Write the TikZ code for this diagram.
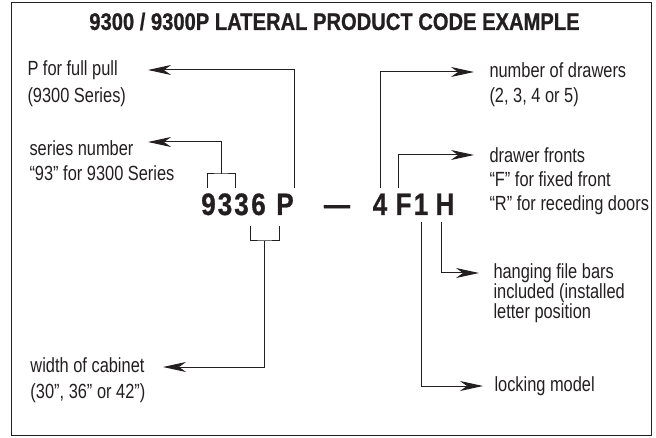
\documentclass[tikz,border=0pt]{standalone}
\usepackage{fontspec}
\usepackage{xcolor}
\usepackage{tikz}
\usetikzlibrary{arrows.meta,positioning,calc}
\newfontfamily\lblfont[FakeStretch=0.8]{Liberation Sans}
\newfontfamily\hdfont[FakeStretch=0.84,FakeBold=0.8]{Liberation Sans Bold}
\definecolor{ink}{RGB}{35,31,32}

\begin{document}
\begin{tikzpicture}[x=1pt,y=-1pt,color=ink,line width=1pt,
  >={Stealth[length=23pt,width=10pt,inset=7pt]},
  lbl/.style={font=\lblfont\fontsize{20.5}{25}\selectfont,anchor=west,align=left,inner sep=0pt},
  code/.style={font=\hdfont\fontsize{31}{31}\selectfont,inner sep=0pt,anchor=base}]
  \useasboundingbox (0,0) rectangle (656,438);
  \draw (11,3) rectangle (651,435);
  \node[font=\hdfont\fontsize{24}{24}\selectfont] (title) at (334.5,21.5) {9300 / 9300P LATERAL PRODUCT CODE EXAMPLE};

  % product code
  \node[code] (c9) at (208.5,215) {9};
  \node[code] (c3a) at (225,215) {3};
  \node[code] (c3b) at (241.5,215) {3};
  \node[code] (c6) at (258.5,215) {6};
  \node[code] (cP) at (285,215) {P};
  \node[code] (dash) at (337,215) {—};
  \node[code] (c4) at (380,215) {4};
  \node[code] (cF) at (403.5,215) {F};
  \node[code] (c1) at (421,215) {1};
  \node[code] (cH) at (445,215) {H};

  % explanations
  \node[lbl] (pull) at (27,83.5) {P for full pull\\[2pt](9300 Series)};
  \node[lbl] (series) at (29,160.5) {series number\\“93” for 9300 Series};
  \node[lbl] (width) at (30,380) {width of cabinet\\[1pt](30”, 36” or 42”)};
  \node[lbl] (drawers) at (489,84.5) {number of drawers\\(2, 3, 4 or 5)};
  \node[lbl] (fronts) at (489,181) {drawer fronts\\[-1pt]“F” for fixed front\\[-1pt]“R” for receding doors};
  \node[lbl] (hanging) at (493,293) {hanging file bars\\[-5pt]included (installed\\[-5pt]letter position};
  \node[lbl] (locking) at (494,386) {locking model};

  % arrow ends
  \coordinate (tipP) at (148,70);
  \coordinate (tip93) at (148,142);
  \coordinate (tip36) at (163,367);
  \coordinate (tip4) at (474,72);
  \coordinate (tipF) at (474,155);
  \coordinate (tipH) at (479,273);
  \coordinate (tip1) at (483,386);

  % brackets
  \coordinate (m93) at (221,174);
  \coordinate (m36) at (264.5,241);
  \draw (207,188) |- (m93) -| (235,188);
  \draw (250,226) |- (m36) -| (279,226);

  % connectors
  \draw[->] (m93) |- (tip93);
  \draw[->] (m36) |- (tip36);
  \draw[->] ([yshift=5pt]cP.north east) |- (tipP);
  \draw[->] ([yshift=5pt]c4.north) |- (tip4);
  \draw[->] ([xshift=3.5pt,yshift=5pt]cF.north west) |- (tipF);
  \draw[->] ([xshift=-4pt,yshift=-7pt]cH.south) |- (tipH);
  \draw[->] ([yshift=-7pt]c1.south) |- (tip1);
\end{tikzpicture}
\end{document}
